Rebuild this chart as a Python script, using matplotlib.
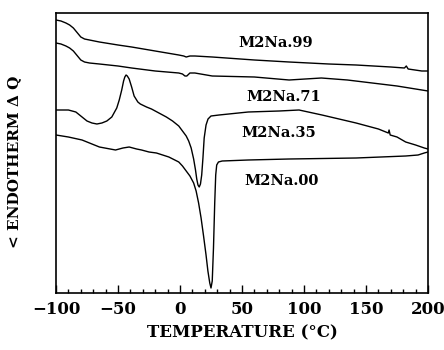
import matplotlib
matplotlib.use("Agg")
import matplotlib.pyplot as plt
from matplotlib.ticker import MultipleLocator

# Temperature (°C) and signal (arbitrary units)
t99 = [-100, -96, -92, -89, -86, -84, -82, -80, -77, -73, -65, -50, -39, -20, -1, 3, 5, 8, 12, 26, 60, 88, 120, 142, 170, 181, 182.5, 184, 195, 200]
v99 = [273, 272, 270, 268, 265, 262, 259, 256, 254, 253, 251, 248, 246, 242, 238, 237, 236, 237, 237, 236, 233, 231, 229, 228, 226, 225, 227, 224, 222, 222]

t71 = [-100, -96, -92, -89, -86, -84, -82, -80, -77, -73, -65, -50, -39, -20, -1, 2, 4, 5.5, 8, 12, 26, 60, 88, 114, 135, 155, 175, 195, 200]
v71 = [250, 249, 247, 245, 242, 239, 236, 233, 231, 230, 229, 227, 225, 222, 220, 219, 217, 217, 220, 220, 217, 216, 213, 215, 213, 210, 207, 203, 202]

t35 = [-100, -90, -84, -79, -75, -71, -67, -63, -59, -55, -51, -49, -47, -45.5, -44.5, -43.5, -42.5, -41, -39, -37, -34, -32, -27, -23, -17, -11, -6, -1, 2, 5, 7, 9, 11, 12.5, 13.5, 14.5, 15.5, 16.5, 17.5, 18.5, 19.5, 21, 22.6, 25, 31.5, 55, 80, 96, 114.5, 142, 160, 168, 168.6, 169.5, 175, 182, 190, 197, 200]
v35 = [183, 183, 181, 176, 172, 170, 169, 170, 172, 176, 185, 193, 203, 212, 216, 218, 217, 214, 206, 197, 191, 189, 186, 184, 180, 176, 172, 167, 162, 157, 152, 145, 134, 123, 114, 108, 106, 109, 118, 135, 155, 168, 174, 177, 178, 181, 182, 183, 178, 170, 164, 160, 163, 158, 156, 151, 148, 145, 144]

t00 = [-100, -90, -79, -65, -52, -46, -41, -35, -31, -25, -19, -9, -1, 2, 5, 8, 11, 13, 15, 17, 19, 21, 22.5, 24, 25, 26, 27, 28, 28.8, 29.6, 31, 34, 55, 88, 142, 182, 192, 197, 200]
v00 = [158, 156, 153, 146, 143, 145, 146, 144, 143, 141, 140, 136, 131, 127, 122, 117, 110, 102, 90, 75, 57, 38, 22, 10, 5, 12, 45, 90, 118, 128, 131, 132, 133, 134, 135, 137, 138, 140, 141]

labels = ["M2Na.99", "M2Na.71", "M2Na.35", "M2Na.00"]
label_x = [77, 84, 80, 82]
label_y = [250, 196, 160, 112]

xticks = [-100, -50, 0, 50, 100, 150, 200]

plt.rcParams['font.family'] = ['DejaVu Serif']
fig = plt.figure(figsize=(4.44, 3.5), dpi=100)
ax = fig.add_axes([56/444, 1-293/350, (428-56)/444, (293-13)/350])

for t, v in [(t99, v99), (t71, v71), (t35, v35), (t00, v00)]:
    ax.plot(t, v, color='black', lw=1.0)

for lab, x, y in zip(labels, label_x, label_y):
    ax.text(x, y, lab, ha='center', va='center', fontsize=10.5, fontweight='bold')

ax.set_xlim(-100, 200)
ax.set_ylim(0, 280)
ax.set_xticks(xticks)
ax.set_xticklabels(["\u2212100", "\u221250", "0", "50", "100", "150", "200"])
ax.xaxis.set_minor_locator(MultipleLocator(10))
ax.set_yticks([])
ax.tick_params(axis='x', which='major', direction='in', length=6, width=1, labelsize=12, pad=6)
ax.tick_params(axis='x', which='minor', direction='in', length=3, width=1)
ax.tick_params(axis='x', top=False)
for lab in ax.get_xticklabels():
    lab.set_fontweight('bold')
for s in ax.spines.values():
    s.set_linewidth(1.2)

ax.set_xlabel("TEMPERATURE (\u00b0C)", fontsize=12, fontweight='bold', labelpad=4)
ax.set_ylabel("< ENDOTHERM \u0394 Q", fontsize=11, fontweight='bold')
ax.yaxis.set_label_coords(-0.095, 0.468)

fig.savefig("out.png", dpi=100)
